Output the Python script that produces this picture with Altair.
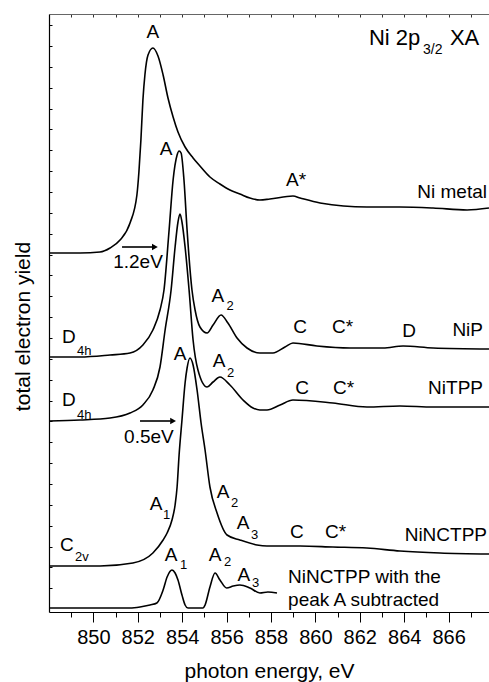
import altair as alt
import pandas as pd

FONT = "Liberation Sans"

# ---------------- spectra (photon energy in eV, intensity in arbitrary units, stacked) -------------
ni_metal_E = [848.00, 849.40, 850.30, 850.75, 851.20, 851.65, 851.96, 852.05, 852.14, 852.23, 852.32,
              852.46, 852.68, 852.91, 853.14, 853.36, 853.59, 853.81, 854.13, 854.49, 854.80, 855.25,
              855.70, 856.15, 856.60, 857.05, 857.50, 857.95, 858.99, 859.31, 860.21, 862.32, 863.81,
              865.30, 866.83, 867.82]
ni_metal_I = [3.59, 3.59, 3.60, 3.64, 3.72, 3.89, 4.17, 4.40, 4.72, 5.12, 5.37,
              5.57, 5.64, 5.56, 5.37, 5.14, 4.95, 4.80, 4.65, 4.54, 4.46, 4.35,
              4.28, 4.22, 4.18, 4.14, 4.12, 4.13, 4.16, 4.14, 4.09, 4.05, 4.05,
              4.04, 4.02, 4.04]

nip_E = [848.00, 849.40, 850.75, 851.65, 852.23, 852.68, 853.00, 853.18, 853.41, 853.59, 853.77, 853.86,
         853.95, 854.08, 854.22, 854.44, 854.58, 854.80, 855.12, 855.39, 855.75, 856.06, 856.47, 856.92,
         857.50, 858.09, 858.63, 858.99, 860.07, 861.56, 863.05, 863.95, 865.30, 867.82]
nip_I = [2.55, 2.55, 2.57, 2.59, 2.67, 2.82, 3.02, 3.22, 3.82, 4.32, 4.57, 4.61,
         4.59, 4.32, 3.82, 3.22, 3.02, 2.85, 2.79, 2.87, 2.97, 2.89, 2.74, 2.64,
         2.59, 2.59, 2.65, 2.69, 2.66, 2.64, 2.64, 2.66, 2.64, 2.63]

nitpp_E = [848.00, 849.40, 850.75, 851.65, 852.23, 852.68, 853.00, 853.23, 853.50, 853.68, 853.81, 853.90,
           853.99, 854.13, 854.31, 854.49, 854.71, 855.12, 855.39, 855.70, 856.15, 856.74, 857.19,
           857.50, 857.82, 858.41, 858.99, 860.79, 862.32, 863.81, 865.30, 867.82]
nitpp_I = [1.91, 1.92, 1.94, 1.99, 2.07, 2.22, 2.45, 2.82, 3.22, 3.65, 3.90, 3.98,
           3.90, 3.65, 3.22, 2.72, 2.42, 2.25, 2.30, 2.35, 2.27, 2.12, 2.04,
           2.02, 2.02, 2.07, 2.12, 2.09, 2.05, 2.06, 2.05, 2.05]

ninctpp_E = [848.00, 850.30, 851.78, 852.68, 853.14, 853.32, 853.54, 853.68, 853.77, 853.86, 853.99,
             854.13, 854.22, 854.35, 854.49, 854.67, 854.85, 855.03, 855.25, 855.57, 856.02, 856.60,
             857.37, 857.82, 859.31, 860.79, 862.32, 863.81, 865.61, 867.82]
ninctpp_I = [0.46, 0.46, 0.49, 0.59, 0.72, 0.79, 0.92, 1.07, 1.25, 1.57, 1.92,
             2.29, 2.44, 2.54, 2.47, 2.22, 1.89, 1.62, 1.25, 0.99, 0.77, 0.72,
             0.67, 0.66, 0.66, 0.65, 0.64, 0.61, 0.59, 0.58]

subtracted_E = [848.00, 850.30, 851.65, 852.10, 852.55, 852.86, 853.14, 853.32, 853.54, 853.68, 853.81,
                853.99, 854.13, 854.26, 854.58, 854.94, 855.03, 855.25, 855.48, 855.70, 856.00, 856.30,
                856.60, 857.05, 857.50, 857.86, 858.27]
subtracted_I = [0.04, 0.04, 0.04, 0.05, 0.07, 0.09, 0.22, 0.35, 0.42, 0.39, 0.32,
                0.17, 0.07, 0.04, 0.04, 0.04, 0.07, 0.25, 0.39, 0.32, 0.24, 0.26,
                0.27, 0.24, 0.19, 0.20, 0.19]

series_names = ["Ni metal", "NiP", "NiTPP", "NiNCTPP", "NiNCTPP subtracted"]
series_E = [ni_metal_E, nip_E, nitpp_E, ninctpp_E, subtracted_E]
series_I = [ni_metal_I, nip_I, nitpp_I, ninctpp_I, subtracted_I]

# ---------------- axis ticks ----------------
major_ticks = [850, 852, 854, 856, 858, 860, 862, 864, 866]
minor_ticks = list(range(849, 868))
y_ticks = [round(0.237 + 0.2086 * k, 3) for k in range(28)]

# ---------------- annotations ----------------
center_text = ["A", "A*", "A", "1.2eV", "A", "A", "A", "0.5eV", "C", "D", "C",
               "A", "A", "A", "C", "A", "A", "A"]
center_E = [852.68, 859.13, 853.27, 852.01, 855.61, 855.66, 853.90, 852.50, 859.31, 864.22, 859.40,
            852.82, 855.84, 856.74, 859.17, 853.50, 855.48, 856.78]
center_I = [5.80, 4.32, 4.63, 3.50, 3.16, 2.51, 2.58, 1.75, 2.85, 2.81, 2.24,
            1.08, 1.20, 0.89, 0.80, 0.57, 0.57, 0.37]

left_text = ["C*", "C*", "C*", "D", "D", "C", "NiNCTPP with the", "peak A subtracted"]
left_E = [860.75, 860.79, 860.43, 848.59, 848.59, 848.50, 858.77, 858.77]
left_I = [2.85, 2.24, 0.80, 2.75, 2.12, 0.67, 0.35, 0.12]

right_text = ["Ni metal", "NiP", "NiTPP", "NiNCTPP"]
right_E = [867.73, 867.55, 867.55, 867.73]
right_I = [4.20, 2.82, 2.24, 0.77]

sub_text = ["4h", "4h", "2v", "2", "2", "1", "2", "3", "1", "2", "3"]
sub_E = [849.26, 849.26, 849.17, 856.00, 856.02, 853.14, 856.20, 857.10, 853.90, 855.88, 857.14]
sub_I = [2.61, 1.97, 0.55, 3.06, 2.39, 0.97, 1.09, 0.77, 0.47, 0.50, 0.29]

title_text = ["Ni 2p", "XA"]
title_E = [862.41, 866.06]
title_I = [5.74, 5.74]
title_sub_text = ["3/2"]
title_sub_E = [864.85]
title_sub_I = [5.62]

arrow_E = [851.29, 852.10]
arrow_E2 = [852.66, 853.48]
arrow_I = [3.65, 1.91]
arrow_head_E = [852.77, 853.59]

# ---------------- tables ----------------
rows = []
for name, es, ins in zip(series_names, series_E, series_I):
    for e, i in zip(es, ins):
        rows.append({"series": name, "E": e, "I": i})
curves = pd.DataFrame(rows)

center_df = pd.DataFrame({"t": center_text, "E": center_E, "I": center_I})
left_df = pd.DataFrame({"t": left_text, "E": left_E, "I": left_I})
right_df = pd.DataFrame({"t": right_text, "E": right_E, "I": right_I})
sub_df = pd.DataFrame({"t": sub_text, "E": sub_E, "I": sub_I})
title_df = pd.DataFrame({"t": title_text, "E": title_E, "I": title_I})
title_sub_df = pd.DataFrame({"t": title_sub_text, "E": title_sub_E, "I": title_sub_I})
arrow_df = pd.DataFrame({"E": arrow_E, "E2": arrow_E2, "I": arrow_I, "H": arrow_head_E})

x_scale = alt.Scale(domain=[848, 867.82], nice=False, zero=False)
y_scale = alt.Scale(domain=[0, 5.98], nice=False, zero=False)

# bottom axis: frame line, long ticks + labels
x_major = alt.Axis(orient="bottom", values=major_ticks, tickSize=10, tickColor="black", tickWidth=1,
                   domain=True, domainColor="black", domainWidth=1.2, grid=False,
                   labelFont=FONT, labelFontSize=20, labelColor="black",
                   labelPadding=5, title="photon energy, eV", titleFont=FONT, titleFontSize=21,
                   titleFontWeight="normal", titleColor="black", titleY=65, titleBaseline="alphabetic")
# bottom axis: short minor ticks
x_minor = alt.Axis(orient="bottom", values=minor_ticks, tickSize=5, tickColor="black", tickWidth=1,
                   domain=False, grid=False, labels=False, title="")
# top axis: small inward ticks
x_top = alt.Axis(orient="top", values=minor_ticks, tickSize=3, offset=-3, tickColor="#333", tickWidth=1,
                 domain=False, grid=False, labels=False, title="")
# top frame line
x_top_line = alt.Axis(orient="top", domain=True, domainColor="#666", domainWidth=1.2, ticks=False,
                      grid=False, labels=False, title="")
# left axis: inward ticks + title
y_axis = alt.Axis(orient="left", values=y_ticks, tickSize=3, offset=-3, tickColor="black", tickWidth=1,
                  domain=False, grid=False, labels=False, title="total electron yield",
                  titleFont=FONT, titleFontSize=21, titleFontWeight="normal", titleColor="black",
                  titleAngle=270, titleAlign="center", titleBaseline="alphabetic", titleX=-23, titleY=312)
# left frame line
y_line = alt.Axis(orient="left", domain=True, domainColor="black", domainWidth=1.2, ticks=False,
                  grid=False, labels=False, title="")

lines = alt.Chart(curves).mark_line(color="black", strokeWidth=1.6, interpolate="monotone", clip=True).encode(
    x=alt.X("E:Q", scale=x_scale, axis=x_major),
    y=alt.Y("I:Q", scale=y_scale, axis=y_axis),
    detail="series:N",
)


def text_layer(df, size, align, xaxis=None, yaxis=None):
    return alt.Chart(df).mark_text(font=FONT, fontSize=size, align=align, baseline="middle", color="black").encode(
        x=alt.X("E:Q", scale=x_scale, axis=xaxis),
        y=alt.Y("I:Q", scale=y_scale, axis=yaxis),
        text="t:N",
    )


center_layer = text_layer(center_df, 19, "center", x_minor)
left_layer = text_layer(left_df, 19, "left", x_top)
right_layer = text_layer(right_df, 19, "right", None, y_line)
sub_layer = text_layer(sub_df, 13, "left", x_top_line)
title_layer = text_layer(title_df, 22, "left")
title_sub_layer = text_layer(title_sub_df, 14, "left")

shafts = alt.Chart(arrow_df).mark_rule(color="black", strokeWidth=1.6).encode(
    x=alt.X("E:Q", scale=x_scale, axis=None),
    x2="E2:Q",
    y=alt.Y("I:Q", scale=y_scale, axis=None),
)
heads = alt.Chart(arrow_df).mark_point(shape="triangle-right", filled=True, size=45, color="black", opacity=1).encode(
    x=alt.X("H:Q", scale=x_scale, axis=None),
    y=alt.Y("I:Q", scale=y_scale, axis=None),
)

chart = alt.layer(
    lines, center_layer, left_layer, right_layer, sub_layer, title_layer, title_sub_layer, shafts, heads
).resolve_scale(x="shared", y="shared").resolve_axis(x="independent", y="independent").properties(
    width=440, height=598,
    padding={"left": 49, "top": 14, "right": 0, "bottom": 70},
    autosize=alt.AutoSizeParams(type="none"),
    background="white",
).configure_view(stroke=None)

chart.save("out.html", embed_options={"renderer": "svg", "actions": False})
